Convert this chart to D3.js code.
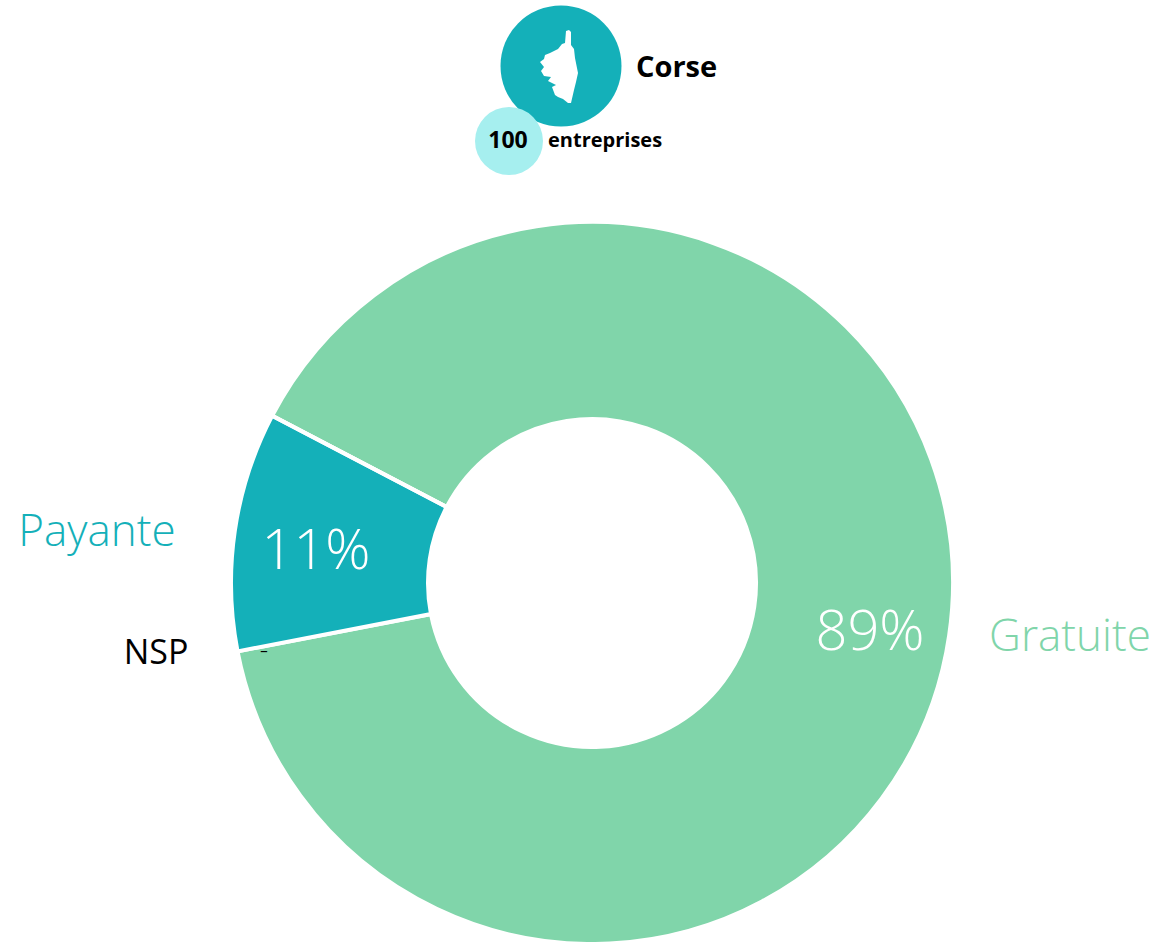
<!DOCTYPE html>
<html>
<head>
<meta charset="utf-8">
<script src="https://cdn.jsdelivr.net/npm/d3@7"></script>
<style>
  html, body { margin: 0; padding: 0; background: #fff; }
  svg { display: block; }
  text { font-family: "Open Sans", "Noto Sans", sans-serif; }
</style>
</head>
<body>
<svg id="chart" width="1162" height="942"></svg>
<script>
var categories = ["Gratuite", "Payante", "NSP"];
var values = [89.3, 10.7, 0];
var valueLabels = ["89%", "11%", "-"];
var colors = ["#80d5aa", "#14b0b9", "#000000"];
var region = "Corse";
var companyCount = "100";
var companyWord = "entreprises";

// outline of the island, in its own little box
var islandShape = [[566,31],[569,30],[571,32],[571,45],[574,49],[575,58],[577,68],[578,73],[576,82],[574,90],[571,103],[568,103],[563,99],[558,97],[555,95],[552,87],[556,85],[548,81],[551,77],[544,76],[541,71],[544,67],[540,62],[544,59],[545,55],[550,53],[558,49],[562,44],[565,43]];

var svg = d3.select("#chart");
var cx = 592, cy = 583, outer = 361, inner = 164;

var pie = d3.pie().sort(null)
  .startAngle(297.6 * Math.PI / 180)
  .endAngle((297.6 + 360) * Math.PI / 180);
var arc = d3.arc().innerRadius(inner).outerRadius(outer);

var arcs = pie(values);

svg.append("g")
  .attr("transform", "translate(" + cx + "," + cy + ")")
  .selectAll("path")
  .data(arcs)
  .enter()
  .append("path")
  .attr("d", arc)
  .style("fill", function(d, i) { return colors[i]; })
  .style("stroke", "#fff")
  .style("stroke-width", "4px");

// slice labels
var labelPos = [
  { x: 870, y: 650, nx: 1070, ny: 651, size: 56, nsize: 44 },
  { x: 316, y: 569, nx: 97, ny: 546, size: 56, nsize: 44 },
  { x: 264, y: 659, nx: 156, ny: 664, size: 26, nsize: 34 }
];

categories.forEach(function(c, i) {
  var p = labelPos[i];
  svg.append("text")
    .attr("x", p.x).attr("y", p.y)
    .attr("text-anchor", "middle")
    .style("font-size", p.size + "px")
    .style("font-weight", 300)
    .style("fill", i == 2 ? "#000" : "#fff")
    .text(valueLabels[i]);
  svg.append("text")
    .attr("x", p.nx).attr("y", p.ny)
    .attr("text-anchor", "middle")
    .style("font-size", p.nsize + "px")
    .style("font-weight", i == 2 ? 400 : 300)
    .style("fill", i == 2 ? "#000" : colors[i])
    .text(c);
});

// header badge
svg.append("circle").attr("cx", 561).attr("cy", 66).attr("r", 60.5).style("fill", "#14b0b9");
svg.append("circle").attr("cx", 509).attr("cy", 141).attr("r", 34).style("fill", "#a6efef");
svg.append("path")
  .attr("d", d3.line()(islandShape) + "Z")
  .style("fill", "#fff");

svg.append("text").attr("x", 636).attr("y", 77)
  .style("font-size", "29px").style("font-weight", 700).text(region);
svg.append("text").attr("x", 508).attr("y", 148)
  .attr("text-anchor", "middle")
  .style("font-size", "23px").style("font-weight", 700).text(companyCount);
svg.append("text").attr("x", 548).attr("y", 147)
  .style("font-size", "20px").style("font-weight", 700).text(companyWord);
</script>
</body>
</html>
